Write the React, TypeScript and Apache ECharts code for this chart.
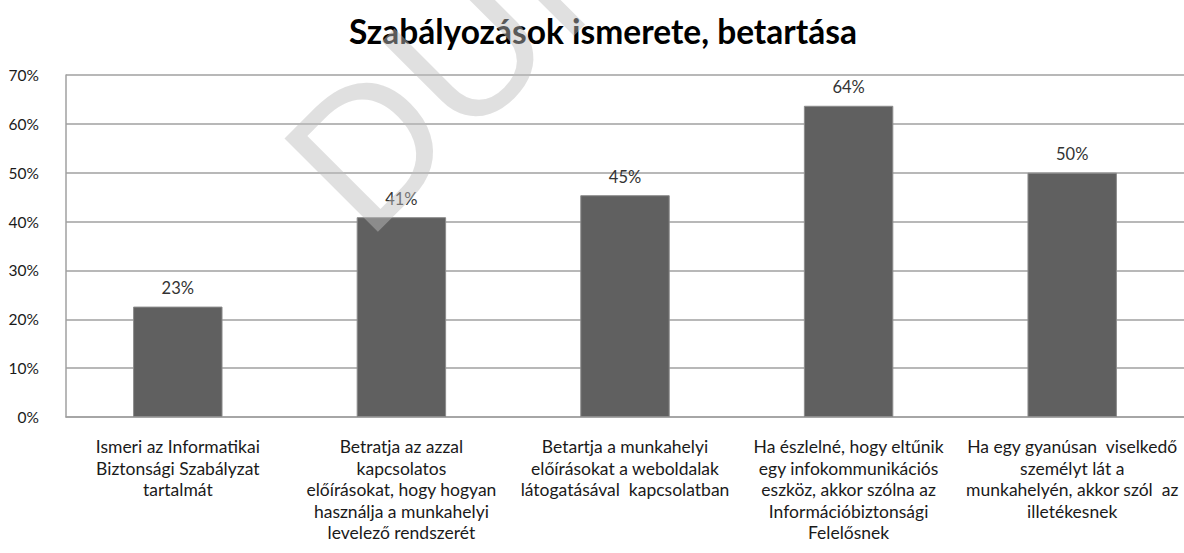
import React, { useEffect, useRef } from "react";
import * as echarts from "echarts";

const titleText = "Szabályozások ismerete, betartása";
const categories = [
  "Ismeri az Informatikai\nBiztonsági Szabályzat\ntartalmát",
  "Betratja az azzal\nkapcsolatos\nelőírásokat, hogy hogyan\nhasználja a munkahelyi\nlevelező rendszerét",
  "Betartja a munkahelyi\nelőírásokat a weboldalak\nlátogatásával  kapcsolatban",
  "Ha észlelné, hogy eltűnik\negy infokommunikációs\neszköz, akkor szólna az\nInformációbiztonsági\nFelelősnek",
  "Ha egy gyanúsan  viselkedő\nszemélyt lát a\nmunkahelyén, akkor szól  az\nilletékesnek",
];
const values = [22.6, 40.9, 45.4, 63.7, 50.0];
const watermarkText = "DUMMY";

export default function App() {
  const ref = useRef<HTMLDivElement>(null);
  useEffect(() => {
    if (!ref.current) return;
    const chart = echarts.init(ref.current, undefined, { renderer: "svg" });
    const font = "Lato, 'Open Sans', sans-serif";
    chart.setOption({
      animation: false,
      backgroundColor: "#ffffff",
      title: {
        text: titleText,
        left: 598,
        top: 9,
        textAlign: "center",
        textStyle: { fontFamily: font, fontWeight: "bold", fontSize: 33.5, color: "#000000" },
      },
      grid: { left: 66, right: -6, top: 75, bottom: 136, containLabel: false },
      xAxis: {
        type: "category",
        data: categories,
        axisLine: { show: true, lineStyle: { color: "#a0a0a0", width: 1.5 } },
        axisTick: { show: false },
        axisLabel: {
          interval: 0,
          margin: 19,
          fontFamily: font,
          fontSize: 17.5,
          lineHeight: 21.5,
          color: "#1a1a1a",
          align: "center",
        },
      },
      yAxis: {
        type: "value",
        min: 0,
        max: 70,
        interval: 10,
        axisLine: { show: true, lineStyle: { color: "#a0a0a0", width: 1.5 } },
        axisTick: { show: false },
        splitLine: { show: true, lineStyle: { color: "#a0a0a0", width: 1.5 } },
        axisLabel: {
          formatter: "{value}%",
          margin: 27,
          fontFamily: font,
          fontSize: 15.5,
          color: "#1a1a1a",
        },
      },
      series: [
        {
          type: "bar",
          data: values,
          barWidth: "40%",
          itemStyle: { color: "#606060", borderColor: "#8c8c8c", borderWidth: 1 },
          label: {
            show: true,
            position: "top",
            distance: 10,
            formatter: (p: any) => Math.round(p.value) + "%",
            fontFamily: font,
            fontSize: 16.5,
            color: "#333333",
          },
        },
      ],
      graphic: [
        {
          type: "text",
          x: 377,
          y: 232,
          rotation: Math.PI / 4,
          z: 100,
          silent: true,
          style: {
            text: watermarkText,
            x: -15,
            y: -66,
            align: "left",
            verticalAlign: "middle",
            fontFamily: "'Liberation Sans', sans-serif",
            fontSize: 192,
            fill: "rgba(189,189,189,0.47)",
          },
        },
      ],
    });
    return () => chart.dispose();
  }, []);
  return (
    <div
      ref={ref}
      style={{ position: "fixed", left: 0, top: 0, width: 1184, height: 553 }}
    />
  );
}
